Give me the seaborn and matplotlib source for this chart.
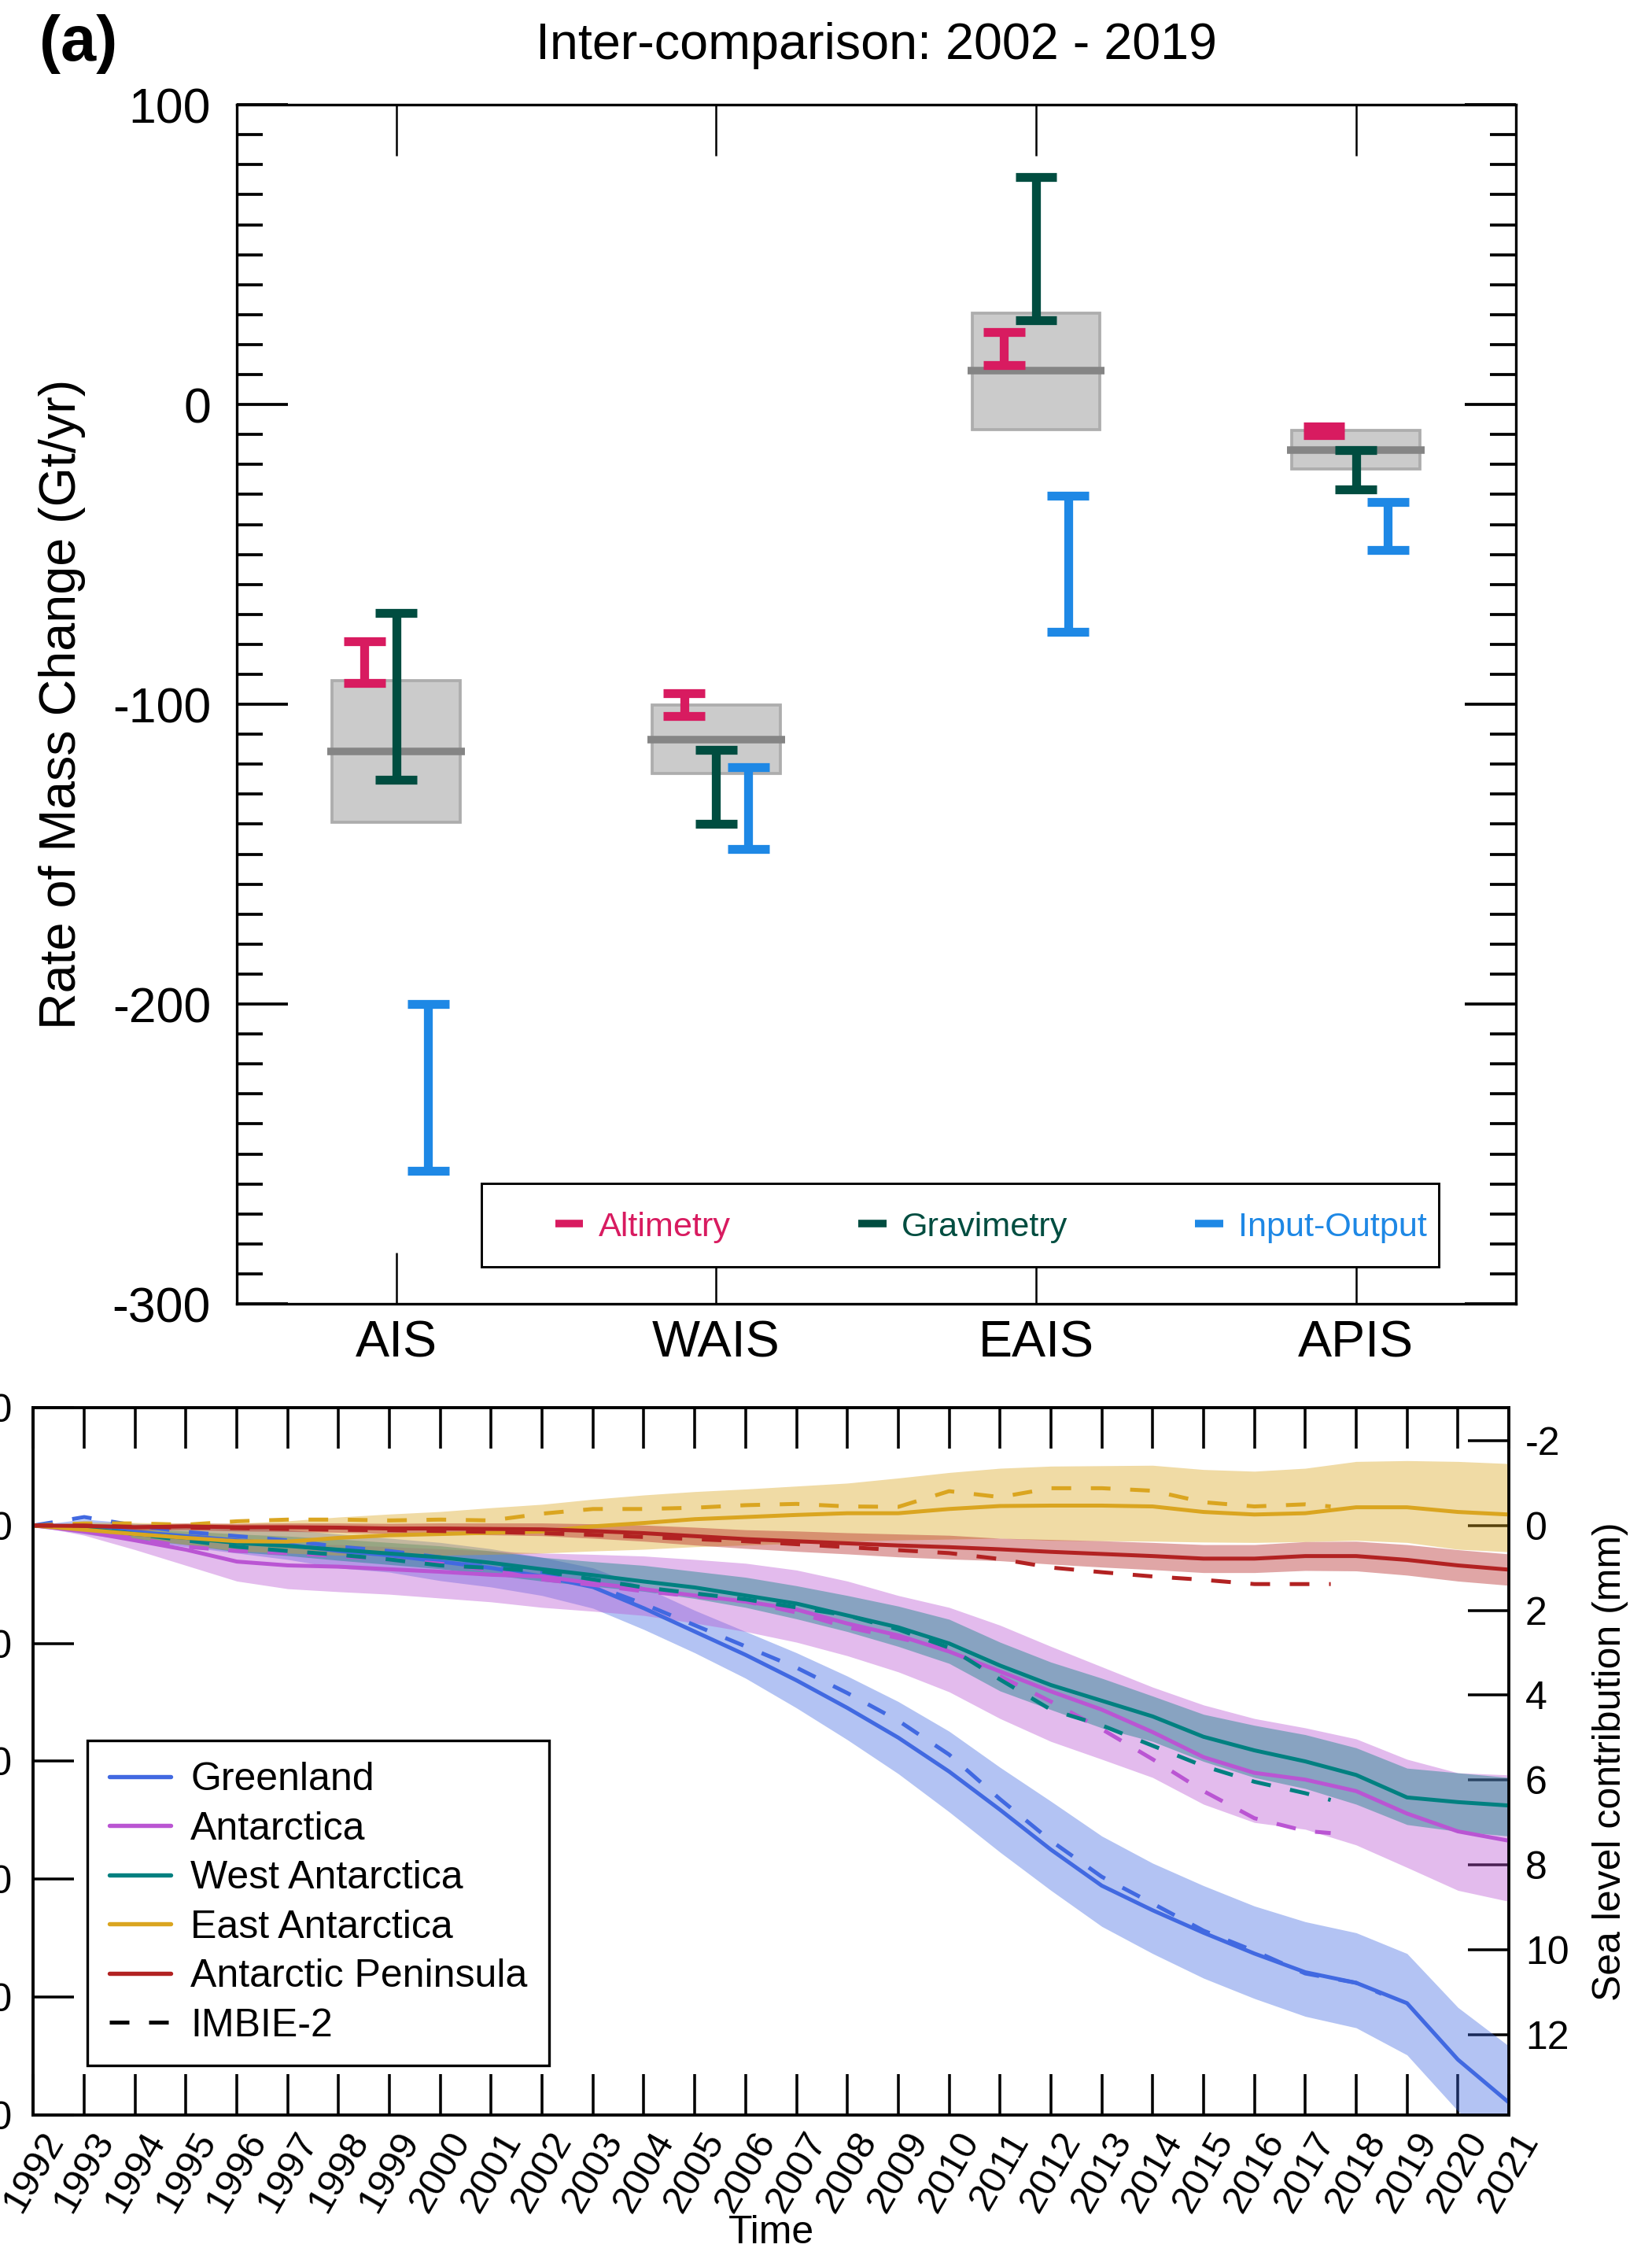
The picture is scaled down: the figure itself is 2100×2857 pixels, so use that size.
import numpy as np
import pandas as pd
import matplotlib
matplotlib.use("Agg")
import matplotlib.pyplot as plt
from matplotlib.lines import Line2D
from matplotlib.patches import Rectangle
from matplotlib.ticker import MultipleLocator
import seaborn as sns

sns.set_theme(style="ticks")
plt.rcParams["font.family"] = ["Liberation Sans", "DejaVu Sans"]
plt.rcParams["axes.unicode_minus"] = False
plt.rcParams["axes.edgecolor"] = "black"
plt.rcParams["xtick.color"] = "black"
plt.rcParams["ytick.color"] = "black"
plt.rcParams["text.color"] = "black"
plt.rcParams["axes.labelcolor"] = "black"

# ---------------- panel (a): rate of mass change, 2002-2019 (Gt/yr) ----------------
regions = ["AIS", "WAIS", "EAIS", "APIS"]
methods = ["Altimetry", "Gravimetry", "Input-Output"]
method_colors = ["#D81B60", "#004D40", "#1E88E5"]

altimetry_low = [-93.0, -103.8, 13.1, -10.1]
altimetry_high = [-79.1, -96.2, 24.3, -7.2]
gravimetry_low = [-125.1, -139.8, 28.1, -28.4]
gravimetry_high = [-69.6, -115.1, 75.9, -15.3]
input_output_low = [-255.5, -148.3, -75.7, -48.4]
input_output_high = [-200.0, -120.9, -30.4, -32.4]

ensemble_low = [-139.3, -123.2, -8.3, -21.5]
ensemble_high = [-92.0, -100.3, 30.5, -8.7]
ensemble_mid = [-115.6, -111.7, 11.2, -15.1]

# ---------------- panel (b): cumulative sea level contribution (mm) ----------------
years = list(range(1992, 2022))
region_names = ["Greenland", "Antarctica", "West Antarctica",
                "East Antarctica", "Antarctic Peninsula"]
region_colors = ["#4169E1", "#BA55D3", "#008080", "#DAA520", "#B22222"]

greenland_mid = [0.00, 0.05, 0.15, 0.25, 0.35, 0.45, 0.60, 0.70, 0.85, 1.00,
                 1.20, 1.45, 1.95, 2.50, 3.05, 3.65, 4.30, 5.00, 5.80, 6.70,
                 7.64, 8.49, 9.07, 9.60, 10.09, 10.53, 10.78, 11.26, 12.59, 13.60]
greenland_low = [0.00, -0.15, -0.05, 0.00, 0.05, 0.10, 0.20, 0.30, 0.40, 0.55,
                 0.75, 1.00, 1.45, 2.00, 2.50, 3.00, 3.55, 4.15, 4.85, 5.70,
                 6.50, 7.32, 7.96, 8.49, 8.97, 9.34, 9.60, 10.09, 11.36, 12.27]
greenland_high = [0.00, 0.20, 0.35, 0.50, 0.65, 0.80, 1.00, 1.10, 1.30, 1.45,
                  1.65, 1.95, 2.45, 3.00, 3.60, 4.30, 5.05, 5.85, 6.75, 7.70,
                  8.60, 9.45, 10.09, 10.67, 11.15, 11.57, 11.84, 12.48, 13.80, 14.90]

antarctica_mid = [0.00, 0.14, 0.35, 0.57, 0.85, 0.94, 0.97, 1.03, 1.09, 1.16,
                  1.20, 1.36, 1.50, 1.65, 1.79, 1.98, 2.31, 2.59, 2.97, 3.44,
                  3.91, 4.34, 4.87, 5.46, 5.83, 5.99, 6.26, 6.79, 7.21, 7.43]
antarctica_low = [0.00, 0.05, 0.15, 0.25, 0.40, 0.45, 0.45, 0.50, 0.55, 0.60,
                  0.65, 0.68, 0.72, 0.80, 0.89, 1.05, 1.31, 1.65, 1.93, 2.35,
                  2.85, 3.33, 3.81, 4.23, 4.55, 4.77, 5.03, 5.51, 5.83, 5.88]
antarctica_high = [0.00, 0.23, 0.57, 0.94, 1.31, 1.49, 1.56, 1.62, 1.71, 1.80,
                   1.93, 2.02, 2.12, 2.30, 2.50, 2.75, 3.07, 3.45, 3.92, 4.55,
                   5.09, 5.51, 5.94, 6.57, 7.00, 7.16, 7.53, 8.06, 8.60, 8.86]

west_mid = [0.00, 0.07, 0.20, 0.29, 0.41, 0.48, 0.57, 0.66, 0.75, 0.88,
            1.03, 1.17, 1.32, 1.46, 1.65, 1.84, 2.12, 2.40, 2.78, 3.30,
            3.76, 4.13, 4.50, 4.98, 5.30, 5.56, 5.88, 6.41, 6.52, 6.60]
west_low = [0.00, 0.00, 0.08, 0.13, 0.20, 0.25, 0.32, 0.40, 0.48, 0.60,
            0.75, 0.85, 0.94, 1.08, 1.22, 1.42, 1.65, 1.90, 2.21, 2.75,
            3.22, 3.60, 4.02, 4.45, 4.71, 4.93, 5.24, 5.72, 5.83, 5.94]
west_high = [0.00, 0.14, 0.32, 0.45, 0.62, 0.71, 0.82, 0.92, 1.02, 1.16,
             1.31, 1.43, 1.55, 1.72, 1.93, 2.20, 2.50, 2.85, 3.25, 3.90,
             4.34, 4.77, 5.09, 5.56, 5.94, 6.20, 6.57, 7.05, 7.21, 7.32]

east_mid = [0.00, 0.10, 0.20, 0.29, 0.37, 0.38, 0.29, 0.23, 0.20, 0.17,
            0.14, 0.02, -0.06, -0.15, -0.20, -0.25, -0.29, -0.29, -0.39, -0.46,
            -0.47, -0.47, -0.45, -0.32, -0.26, -0.29, -0.43, -0.43, -0.32, -0.26]
east_low = [0.00, -0.08, -0.07, -0.05, -0.05, -0.11, -0.20, -0.27, -0.33, -0.42,
            -0.50, -0.62, -0.72, -0.80, -0.86, -0.93, -1.00, -1.12, -1.25, -1.35,
            -1.40, -1.41, -1.42, -1.32, -1.28, -1.35, -1.51, -1.53, -1.51, -1.46]
east_high = [0.00, 0.15, 0.30, 0.45, 0.60, 0.65, 0.70, 0.70, 0.70, 0.68,
             0.65, 0.60, 0.56, 0.50, 0.46, 0.42, 0.37, 0.34, 0.32, 0.30,
             0.35, 0.36, 0.37, 0.39, 0.40, 0.38, 0.35, 0.40, 0.56, 0.62]

peninsula_mid = [0.00, 0.01, 0.04, 0.02, 0.04, 0.04, 0.05, 0.07, 0.07, 0.08,
                 0.09, 0.13, 0.18, 0.25, 0.32, 0.37, 0.42, 0.47, 0.51, 0.56,
                 0.62, 0.67, 0.72, 0.78, 0.78, 0.72, 0.72, 0.81, 0.94, 1.04]
peninsula_low = [0.00, -0.04, -0.03, -0.06, -0.05, -0.06, -0.06, -0.05, -0.06, -0.06,
                 -0.06, -0.04, -0.01, 0.04, 0.10, 0.13, 0.17, 0.20, 0.23, 0.30,
                 0.33, 0.36, 0.40, 0.45, 0.45, 0.38, 0.37, 0.45, 0.57, 0.67]
peninsula_high = [0.00, 0.06, 0.11, 0.10, 0.13, 0.14, 0.16, 0.19, 0.20, 0.22,
                  0.24, 0.30, 0.37, 0.46, 0.54, 0.61, 0.67, 0.74, 0.79, 0.83,
                  0.91, 0.98, 1.04, 1.11, 1.11, 1.06, 1.07, 1.17, 1.31, 1.41]

# IMBIE-2 reconciled estimates (shorter records)
imbie_years_greenland = list(range(1992, 2019)) + [2018.5]
imbie_years_antarctic = list(range(1992, 2018)) + [2017.5]
imbie_greenland = [0.00, -0.20, 0.00, 0.15, 0.25, 0.35, 0.50, 0.60, 0.75, 0.90,
                   1.10, 1.40, 1.85, 2.35, 2.85, 3.35, 3.95, 4.60, 5.40, 6.45,
                   7.43, 8.28, 8.91, 9.55, 10.03, 10.56, 10.78, 11.04]
imbie_antarctica = [0.00, 0.10, 0.30, 0.50, 0.60, 0.65, 0.72, 0.80, 0.90, 1.05,
                    1.27, 1.40, 1.55, 1.67, 1.79, 2.05, 2.40, 2.65, 2.92, 3.55,
                    4.15, 4.80, 5.51, 6.26, 6.90, 7.20, 7.25]
imbie_west = [0.00, 0.05, 0.20, 0.35, 0.50, 0.60, 0.69, 0.80, 0.94, 1.00,
              1.08, 1.27, 1.46, 1.60, 1.74, 1.93, 2.12, 2.45, 2.88, 3.63,
              4.34, 4.71, 5.19, 5.67, 6.04, 6.31, 6.47]
imbie_east = [0.00, -0.05, -0.05, -0.02, -0.10, -0.14, -0.14, -0.12, -0.14, -0.12,
              -0.28, -0.39, -0.39, -0.42, -0.48, -0.51, -0.45, -0.44, -0.81, -0.67,
              -0.88, -0.88, -0.82, -0.55, -0.45, -0.50, -0.45]
imbie_peninsula = [0.00, 0.00, 0.03, 0.05, 0.06, 0.08, 0.10, 0.11, 0.13, 0.15,
                   0.18, 0.22, 0.27, 0.32, 0.37, 0.44, 0.51, 0.58, 0.65, 0.79,
                   0.99, 1.10, 1.20, 1.28, 1.38, 1.38, 1.38]

GT_PER_MM = 360.0

# ------------------------------------------------------------------------------
fig = plt.figure(figsize=(7.0, 2857 / 300), dpi=300)

# ---------- panel (a) ----------
ax = fig.add_axes([0.1431, 0.4200, 0.7745, 0.5334])

x_pos = np.arange(len(regions))
ax.bar(x_pos, np.array(ensemble_high) - np.array(ensemble_low), bottom=ensemble_low,
       width=0.4, color="#cbcbcb", edgecolor="#adadad", linewidth=0.9, zorder=1)
ax.hlines(ensemble_mid, x_pos - 0.215, x_pos + 0.215, colors="#858585",
          linewidth=2.3, zorder=1.5)

rows = []
for m, lows, highs in zip(methods,
                          [altimetry_low, gravimetry_low, input_output_low],
                          [altimetry_high, gravimetry_high, input_output_high]):
    for r, lo, hi in zip(regions, lows, highs):
        rows.append((r, m, lo))
        rows.append((r, m, hi))
rates = pd.DataFrame(rows, columns=["region", "method", "rate"])

sns.pointplot(data=rates, x="region", y="rate", hue="method",
              order=regions, hue_order=methods, palette=method_colors,
              estimator="mean", errorbar=("pi", 100), dodge=0.2, capsize=0.13,
              linestyle="none", marker="", legend=False,
              err_kws={"linewidth": 2.7, "solid_capstyle": "butt", "zorder": 3},
              ax=ax)

ax.set_xlim(-0.5, 3.5)
ax.set_ylim(-300, 100)
ax.set_yticks([-300, -200, -100, 0, 100])
ax.yaxis.set_minor_locator(MultipleLocator(10))
ax.tick_params(axis="y", which="major", direction="in", length=15.5, width=0.9,
               left=True, right=True, labelsize=15, pad=7.8)
ax.tick_params(axis="y", which="minor", direction="in", length=8, width=0.9,
               left=True, right=True)
ax.tick_params(axis="x", which="major", direction="in", length=15.5, width=0.6,
               top=True, bottom=True, labelsize=15.5, pad=5)
for sp in ax.spines.values():
    sp.set_linewidth(0.8)
    sp.set_color("black")
ax.set_xlabel("")
ax.set_ylabel("Rate of Mass Change (Gt/yr)", fontsize=15.5, labelpad=8)
ax.set_title("Inter-comparison: 2002 - 2019", fontsize=15.5, pad=14)
fig.text(0.024, 0.9937, "(a)", fontsize=19.5, fontweight="bold", ha="left", va="top")

ax.add_patch(Rectangle((0.1915, 0.0308), 0.7483, 0.0696, transform=ax.transAxes,
                       facecolor="white", edgecolor="black", linewidth=0.7, zorder=4))
method_handles = [Line2D([], [], color=c, lw=2.3, solid_capstyle="butt")
                  for c in method_colors]
ax.legend(method_handles, methods, loc="center", bbox_to_anchor=(0.5900, 0.0640),
          ncol=3, fontsize=10.4, handlelength=0.82, handletextpad=0.45,
          columnspacing=3.74, frameon=False, labelcolor="linecolor",
          borderpad=0, borderaxespad=0)

# ---------- panel (b) ----------
axb = fig.add_axes([0.0202, 0.0593, 0.8931, 0.3145])
axr = axb.twinx()

band_sets = [(greenland_low, greenland_high), (antarctica_low, antarctica_high),
             (west_low, west_high), (east_low, east_high),
             (peninsula_low, peninsula_high)]
for (lo, hi), c in zip(band_sets, region_colors):
    axr.fill_between(years, lo, hi, color=c, alpha=0.4, linewidth=0)

series = [
    ("Greenland", "This study", years, greenland_mid),
    ("Antarctica", "This study", years, antarctica_mid),
    ("West Antarctica", "This study", years, west_mid),
    ("East Antarctica", "This study", years, east_mid),
    ("Antarctic Peninsula", "This study", years, peninsula_mid),
    ("Greenland", "IMBIE-2", imbie_years_greenland, imbie_greenland),
    ("Antarctica", "IMBIE-2", imbie_years_antarctic, imbie_antarctica),
    ("West Antarctica", "IMBIE-2", imbie_years_antarctic, imbie_west),
    ("East Antarctica", "IMBIE-2", imbie_years_antarctic, imbie_east),
    ("Antarctic Peninsula", "IMBIE-2", imbie_years_antarctic, imbie_peninsula),
]
frames = [pd.DataFrame({"year": yr, "slc": vals, "region": name, "source": src})
          for name, src, yr, vals in series]
slc = pd.concat(frames, ignore_index=True)

sns.lineplot(data=slc, x="year", y="slc", hue="region", style="source",
             hue_order=region_names, palette=region_colors,
             style_order=["This study", "IMBIE-2"],
             dashes={"This study": "", "IMBIE-2": (5, 5)},
             estimator=None, errorbar=None, linewidth=1.2, legend=False, ax=axr)

axb.set_xlim(1992, 2021)
axb.set_ylim(-5000, 1000)
axb.set_yticks(range(-5000, 1001, 1000))
axb.set_xticks(years)
axb.set_xticklabels([str(y) for y in years], rotation=60, ha="center", va="top")
axb.tick_params(axis="y", direction="in", length=12.5, width=0.85, labelsize=12,
                pad=6.4, left=True, right=False)
axb.tick_params(axis="x", direction="in", length=12.5, width=0.85, labelsize=11.8,
                top=True, bottom=True, pad=3.5)
axb.set_xlabel("Time", fontsize=12)
axb.xaxis.set_label_coords(0.5, -0.1422)

ylo, yhi = axb.get_ylim()
axr.set_ylim(-ylo / GT_PER_MM, -yhi / GT_PER_MM)
axr.set_yticks(range(-2, 13, 2))
axr.tick_params(axis="y", direction="in", length=12.5, width=0.85, labelsize=12,
                pad=5, right=True, left=False)
axr.set_xlim(1992, 2021)
axr.set_xlabel("")
axr.set_ylabel("Sea level contribution (mm)", fontsize=12, labelpad=7)
for a in (axb, axr):
    for sp in a.spines.values():
        sp.set_linewidth(0.85)
        sp.set_color("black")

region_handles = [Line2D([], [], color=c, lw=1.3) for c in region_colors]
region_handles.append(Line2D([], [], color="black", lw=1.2, dashes=(5, 5)))
axr.legend(region_handles, region_names + ["IMBIE-2"], loc="lower left",
           bbox_to_anchor=(0.0366, 0.0696), borderaxespad=0, fontsize=12,
           handlelength=1.57, handletextpad=0.5, labelspacing=0.33, borderpad=0.55,
           fancybox=False, edgecolor="black", framealpha=1)
axr.get_legend().get_frame().set_linewidth(0.8)

fig.savefig("out.png", dpi=300)
